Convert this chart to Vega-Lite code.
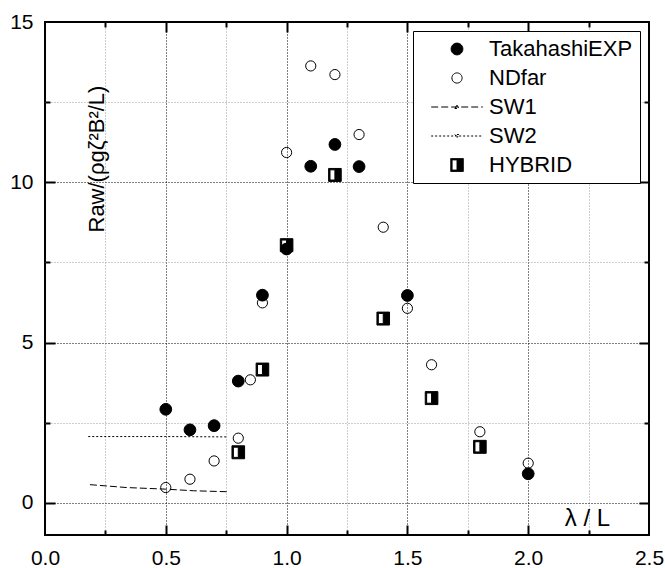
{
  "$schema": "https://vega.github.io/schema/vega-lite/v6.json",
  "width": 604,
  "height": 513,
  "autosize": {"type": "none"},
  "padding": {"left": 45, "top": 22, "right": 16, "bottom": 33},
  "background": "white",
  "config": {
    "view": {"stroke": "black", "strokeWidth": 2},
    "font": "Liberation Sans",
    "axis": {
      "labelFont": "Liberation Sans",
      "labelFontSize": 21,
      "labelColor": "black",
      "titleFont": "Liberation Sans",
      "titleFontSize": 22,
      "titleFontWeight": "normal",
      "titleColor": "black",
      "domain": false,
      "tickColor": "black",
      "tickWidth": 2,
      "labelFlush": false,
      "labelOverlap": false
    },
    "legend": {
      "orient": "top-right",
      "offset": 9,
      "padding": 7,
      "strokeColor": "black",
      "strokeWidth": 1,
      "fillColor": "white",
      "cornerRadius": 0,
      "labelFont": "Liberation Sans",
      "labelFontSize": 22,
      "labelColor": "black",
      "symbolSize": 144,
      "symbolStrokeWidth": 1,
      "symbolOffset": 26,
      "labelOffset": 21,
      "rowPadding": 7,
      "labelLimit": 300
    }
  },
  "datasets": {
    "nd": [
      {"series": "NDfar", "lambda": 0.5, "R": 0.48},
      {"series": "NDfar", "lambda": 0.6, "R": 0.74},
      {"series": "NDfar", "lambda": 0.7, "R": 1.31},
      {"series": "NDfar", "lambda": 0.8, "R": 2.02},
      {"series": "NDfar", "lambda": 0.85, "R": 3.84},
      {"series": "NDfar", "lambda": 0.9, "R": 6.24},
      {"series": "NDfar", "lambda": 1.0, "R": 10.93},
      {"series": "NDfar", "lambda": 1.1, "R": 13.63},
      {"series": "NDfar", "lambda": 1.2, "R": 13.36},
      {"series": "NDfar", "lambda": 1.3, "R": 11.49},
      {"series": "NDfar", "lambda": 1.4, "R": 8.6},
      {"series": "NDfar", "lambda": 1.5, "R": 6.07},
      {"series": "NDfar", "lambda": 1.6, "R": 4.31},
      {"series": "NDfar", "lambda": 1.8, "R": 2.22},
      {"series": "NDfar", "lambda": 2.0, "R": 1.24}
    ],
    "tk": [
      {"series": "TakahashiEXP", "lambda": 0.5, "R": 2.92},
      {"series": "TakahashiEXP", "lambda": 0.6, "R": 2.28},
      {"series": "TakahashiEXP", "lambda": 0.7, "R": 2.41},
      {"series": "TakahashiEXP", "lambda": 0.8, "R": 3.8},
      {"series": "TakahashiEXP", "lambda": 0.9, "R": 6.48},
      {"series": "TakahashiEXP", "lambda": 1.0, "R": 7.92},
      {"series": "TakahashiEXP", "lambda": 1.1, "R": 10.5},
      {"series": "TakahashiEXP", "lambda": 1.2, "R": 11.18},
      {"series": "TakahashiEXP", "lambda": 1.3, "R": 10.49},
      {"series": "TakahashiEXP", "lambda": 1.5, "R": 6.47},
      {"series": "TakahashiEXP", "lambda": 2.0, "R": 0.91}
    ],
    "hyb": [
      {"series": "HYBRID", "lambda": 0.8, "R": 1.58},
      {"series": "HYBRID", "lambda": 0.9, "R": 4.16},
      {"series": "HYBRID", "lambda": 1.0, "R": 8.04},
      {"series": "HYBRID", "lambda": 1.2, "R": 10.23},
      {"series": "HYBRID", "lambda": 1.4, "R": 5.75},
      {"series": "HYBRID", "lambda": 1.6, "R": 3.27},
      {"series": "HYBRID", "lambda": 1.8, "R": 1.75}
    ],
    "sw1": [
      {"series": "SW1", "lambda": 0.186, "R": 0.57},
      {"series": "SW1", "lambda": 0.338, "R": 0.48},
      {"series": "SW1", "lambda": 0.5, "R": 0.43},
      {"series": "SW1", "lambda": 0.614, "R": 0.38},
      {"series": "SW1", "lambda": 0.752, "R": 0.35}
    ],
    "sw2": [
      {"series": "SW2", "lambda": 0.179, "R": 2.07},
      {"series": "SW2", "lambda": 0.5, "R": 2.07},
      {"series": "SW2", "lambda": 0.752, "R": 2.06}
    ]
  },
  "layer": [
    {
      "data": {"name": "sw1"},
      "mark": {"type": "line", "color": "black", "strokeWidth": 1},
      "encoding": {
        "x": {
          "field": "lambda", "type": "quantitative",
          "scale": {"domain": [0, 2.5], "nice": false, "zero": false},
          "axis": {"orient": "top", "offset": -513, "values": [0.5, 1, 1.5, 2], "labels": false, "grid": false, "title": null, "tickSize": 10}
        },
        "y": {
          "field": "R", "type": "quantitative",
          "scale": {"domain": [-1, 15], "nice": false, "zero": false},
          "axis": {"orient": "right", "offset": -604, "values": [0, 5, 10], "labels": false, "grid": false, "title": null, "tickSize": 10}
        },
        "strokeDash": {
          "field": "series", "type": "nominal", "title": null,
          "scale": {
            "domain": ["TakahashiEXP", "NDfar", "SW1", "SW2", "HYBRID"],
            "range": [[1, 0], [1, 0], [7, 3], [2, 2], [1, 0]]
          }
        }
      }
    },
    {
      "data": {"name": "sw2"},
      "mark": {"type": "line", "color": "black", "strokeWidth": 1},
      "encoding": {
        "x": {
          "field": "lambda", "type": "quantitative",
          "scale": {"domain": [0, 2.5], "nice": false, "zero": false},
          "axis": {"orient": "top", "offset": -513, "values": [0.25, 0.75, 1.25, 1.75, 2.25], "labels": false, "grid": false, "title": null, "tickSize": 5}
        },
        "y": {
          "field": "R", "type": "quantitative",
          "scale": {"domain": [-1, 15], "nice": false, "zero": false},
          "axis": {"orient": "right", "offset": -604, "values": [2.5, 7.5, 12.5], "labels": false, "grid": false, "title": null, "tickSize": 5}
        },
        "strokeDash": {
          "field": "series", "type": "nominal", "title": null,
          "scale": {
            "domain": ["TakahashiEXP", "NDfar", "SW1", "SW2", "HYBRID"],
            "range": [[1, 0], [1, 0], [7, 3], [2, 2], [1, 0]]
          }
        }
      }
    },
    {
      "data": {"name": "nd"},
      "transform": [{"filter": "datum.lambda < 1"}],
      "mark": {"type": "point", "size": 144, "strokeWidth": 1, "opacity": 1},
      "encoding": {
        "x": {
          "field": "lambda", "type": "quantitative",
          "scale": {"domain": [0, 2.5], "nice": false, "zero": false},
          "axis": {"orient": "bottom", "offset": -513, "values": [0.5, 1, 1.5, 2], "labels": false, "grid": false, "title": null, "tickSize": 10}
        },
        "y": {
          "field": "R", "type": "quantitative",
          "scale": {"domain": [-1, 15], "nice": false, "zero": false},
          "axis": {"orient": "left", "offset": -604, "values": [0, 5, 10], "labels": false, "grid": false, "title": null, "tickSize": 10}
        },
        "shape": {
          "field": "series", "type": "nominal", "title": null,
          "scale": {
            "domain": ["TakahashiEXP", "NDfar", "SW1", "SW2", "HYBRID"],
            "range": [
              "M-0.98,0A0.98,0.98 0 1,0 0.98,0A0.98,0.98 0 1,0 -0.98,0Z",
              "M-0.85,0A0.85,0.85 0 1,0 0.85,0A0.85,0.85 0 1,0 -0.85,0Z",
              "M-4.3,0H4.3M-0.35,0.25L0,-0.3L0.35,0.25Z",
              "M-4.3,0H4.3M-0.35,-0.25L0,0.3L0.35,-0.25Z",
              "M-1.05,-1.08H1.05V1.08H-1.05ZM-0.82,-0.85V0.85H0V-0.85Z"
            ]
          }
        },
        "fill": {
          "field": "series", "type": "nominal", "title": null,
          "scale": {
            "domain": ["TakahashiEXP", "NDfar", "SW1", "SW2", "HYBRID"],
            "range": ["black", "transparent", "white", "white", "black"]
          }
        },
        "stroke": {
          "field": "series", "type": "nominal", "title": null,
          "scale": {
            "domain": ["TakahashiEXP", "NDfar", "SW1", "SW2", "HYBRID"],
            "range": ["black", "black", "black", "black", "black"]
          }
        }
      }
    },
    {
      "data": {"name": "nd"},
      "transform": [{"filter": "datum.lambda >= 1"}],
      "mark": {"type": "point", "size": 144, "strokeWidth": 1, "opacity": 1},
      "encoding": {
        "x": {
          "field": "lambda", "type": "quantitative",
          "scale": {"domain": [0, 2.5], "nice": false, "zero": false},
          "axis": {"orient": "bottom", "offset": -513, "values": [0.25, 0.75, 1.25, 1.75, 2.25], "labels": false, "grid": false, "title": null, "tickSize": 5}
        },
        "y": {
          "field": "R", "type": "quantitative",
          "scale": {"domain": [-1, 15], "nice": false, "zero": false},
          "axis": {"orient": "left", "offset": -604, "values": [2.5, 7.5, 12.5], "labels": false, "grid": false, "title": null, "tickSize": 5}
        },
        "shape": {
          "field": "series", "type": "nominal", "title": null,
          "scale": {
            "domain": ["TakahashiEXP", "NDfar", "SW1", "SW2", "HYBRID"],
            "range": [
              "M-0.98,0A0.98,0.98 0 1,0 0.98,0A0.98,0.98 0 1,0 -0.98,0Z",
              "M-0.85,0A0.85,0.85 0 1,0 0.85,0A0.85,0.85 0 1,0 -0.85,0Z",
              "M-4.3,0H4.3M-0.35,0.25L0,-0.3L0.35,0.25Z",
              "M-4.3,0H4.3M-0.35,-0.25L0,0.3L0.35,-0.25Z",
              "M-1.05,-1.08H1.05V1.08H-1.05ZM-0.82,-0.85V0.85H0V-0.85Z"
            ]
          }
        },
        "fill": {
          "field": "series", "type": "nominal", "title": null,
          "scale": {
            "domain": ["TakahashiEXP", "NDfar", "SW1", "SW2", "HYBRID"],
            "range": ["black", "transparent", "white", "white", "black"]
          }
        },
        "stroke": {
          "field": "series", "type": "nominal", "title": null,
          "scale": {
            "domain": ["TakahashiEXP", "NDfar", "SW1", "SW2", "HYBRID"],
            "range": ["black", "black", "black", "black", "black"]
          }
        }
      }
    },
    {
      "data": {"name": "tk"},
      "mark": {"type": "point", "size": 144, "strokeWidth": 1, "opacity": 1},
      "encoding": {
        "x": {
          "field": "lambda", "type": "quantitative",
          "scale": {"domain": [0, 2.5], "nice": false, "zero": false},
          "axis": {
            "orient": "bottom",
            "values": [0, 0.5, 1, 1.5, 2, 2.5],
            "format": ".1f",
            "ticks": false,
            "labelPadding": 12,
            "grid": true, "gridDash": [1, 2], "gridWidth": 1, "gridColor": "black",
            "title": "λ / L",
            "titleAlign": "center",
            "titleBaseline": "alphabetic",
            "titleX": 542,
            "titleY": -10,
            "titleFontSize": 24
          }
        },
        "y": {
          "field": "R", "type": "quantitative",
          "scale": {"domain": [-1, 15], "nice": false, "zero": false},
          "axis": {
            "orient": "left",
            "values": [0, 5, 10, 15],
            "format": "d",
            "ticks": false,
            "labelPadding": 12,
            "grid": true, "gridDash": [1, 2], "gridWidth": 1, "gridColor": "black",
            "title": "Raw/(ρgζ²B²/L)",
            "titleAngle": -90,
            "titleAlign": "left",
            "titleBaseline": "alphabetic",
            "titleX": 58,
            "titleY": 210,
            "titleFontSize": 22
          }
        },
        "shape": {
          "field": "series", "type": "nominal", "title": null,
          "scale": {
            "domain": ["TakahashiEXP", "NDfar", "SW1", "SW2", "HYBRID"],
            "range": [
              "M-0.98,0A0.98,0.98 0 1,0 0.98,0A0.98,0.98 0 1,0 -0.98,0Z",
              "M-0.85,0A0.85,0.85 0 1,0 0.85,0A0.85,0.85 0 1,0 -0.85,0Z",
              "M-4.3,0H4.3M-0.35,0.25L0,-0.3L0.35,0.25Z",
              "M-4.3,0H4.3M-0.35,-0.25L0,0.3L0.35,-0.25Z",
              "M-1.05,-1.08H1.05V1.08H-1.05ZM-0.82,-0.85V0.85H0V-0.85Z"
            ]
          }
        },
        "fill": {
          "field": "series", "type": "nominal", "title": null,
          "scale": {
            "domain": ["TakahashiEXP", "NDfar", "SW1", "SW2", "HYBRID"],
            "range": ["black", "transparent", "white", "white", "black"]
          }
        },
        "stroke": {
          "field": "series", "type": "nominal", "title": null,
          "scale": {
            "domain": ["TakahashiEXP", "NDfar", "SW1", "SW2", "HYBRID"],
            "range": ["black", "black", "black", "black", "black"]
          }
        }
      }
    },
    {
      "data": {"name": "hyb"},
      "mark": {"type": "point", "size": 144, "strokeWidth": 1, "opacity": 1},
      "encoding": {
        "x": {
          "field": "lambda", "type": "quantitative",
          "scale": {"domain": [0, 2.5], "nice": false, "zero": false},
          "axis": {
            "orient": "bottom",
            "values": [0.25, 0.75, 1.25, 1.75, 2.25],
            "labels": false, "ticks": false,
            "grid": true, "gridDash": [1, 2], "gridWidth": 1, "gridColor": "#9a9a9a",
            "title": null
          }
        },
        "y": {
          "field": "R", "type": "quantitative",
          "scale": {"domain": [-1, 15], "nice": false, "zero": false},
          "axis": {
            "orient": "left",
            "values": [2.5, 7.5, 12.5],
            "labels": false, "ticks": false,
            "grid": true, "gridDash": [1, 2], "gridWidth": 1, "gridColor": "#9a9a9a",
            "title": null
          }
        },
        "shape": {
          "field": "series", "type": "nominal", "title": null,
          "scale": {
            "domain": ["TakahashiEXP", "NDfar", "SW1", "SW2", "HYBRID"],
            "range": [
              "M-0.98,0A0.98,0.98 0 1,0 0.98,0A0.98,0.98 0 1,0 -0.98,0Z",
              "M-0.85,0A0.85,0.85 0 1,0 0.85,0A0.85,0.85 0 1,0 -0.85,0Z",
              "M-4.3,0H4.3M-0.35,0.25L0,-0.3L0.35,0.25Z",
              "M-4.3,0H4.3M-0.35,-0.25L0,0.3L0.35,-0.25Z",
              "M-1.05,-1.08H1.05V1.08H-1.05ZM-0.82,-0.85V0.85H0V-0.85Z"
            ]
          }
        },
        "fill": {
          "field": "series", "type": "nominal", "title": null,
          "scale": {
            "domain": ["TakahashiEXP", "NDfar", "SW1", "SW2", "HYBRID"],
            "range": ["black", "transparent", "white", "white", "black"]
          }
        },
        "stroke": {
          "field": "series", "type": "nominal", "title": null,
          "scale": {
            "domain": ["TakahashiEXP", "NDfar", "SW1", "SW2", "HYBRID"],
            "range": ["black", "black", "black", "black", "black"]
          }
        }
      }
    }
  ],
  "resolve": {"axis": {"x": "independent", "y": "independent"}}
}
